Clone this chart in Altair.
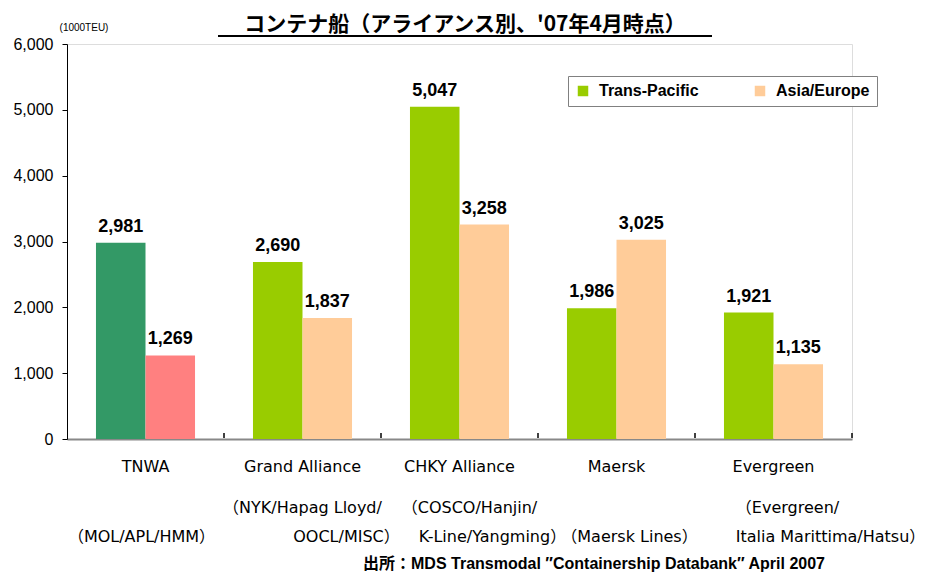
import altair as alt
import pandas as pd

# ---- data ----
categories = ["TNWA", "Grand Alliance", "CHKY Alliance", "Maersk", "Evergreen"]
series = ["Trans-Pacific", "Asia/Europe"]
trans_pacific = [2981, 2690, 5047, 1986, 1921]
asia_europe = [1269, 1837, 3258, 3025, 1135]
members_line1 = ["", "（NYK/Hapag Lloyd/", "（COSCO/Hanjin/", "", "（Evergreen/"]
members_line2 = ["（MOL/APL/HMM）", "OOCL/MISC）", "K-Line/Yangming）", "（Maersk Lines）", "Italia Marittima/Hatsu）"]
y_ticks = [0, 1000, 2000, 3000, 4000, 5000, 6000]

title_text = "コンテナ船（アライアンス別、'07年4月時点）"
unit_text = "(1000TEU)"
source_text = "出所：MDS Transmodal ″Containership Databank″ April 2007"

rows = []
for i, c in enumerate(categories):
    for s, vals in zip(series, [trans_pacific, asia_europe]):
        key = ("TNWA " + s) if c == "TNWA" else s
        rows.append({"category": c, "series": s, "value": vals[i], "colorkey": key})
df = pd.DataFrame(rows)

# ---- layout ----
W, H = 785, 395
PLOT_LEFT, PLOT_TOP = 67, 44
FONT = "Liberation Sans"
WFONT = "DejaVu Sans, Noto Sans CJK JP"
JFONT = "Noto Sans CJK JP"
MIXB = "Liberation Sans, Noto Sans CJK JP"

color_domain = ["Trans-Pacific", "Asia/Europe", "TNWA Trans-Pacific", "TNWA Asia/Europe"]
color_range = ["#99CC00", "#FFCC99", "#339966", "#FF8080"]

x_enc = alt.X("category:N", sort=categories, title=None,
              scale=alt.Scale(paddingInner=0, paddingOuter=0),
              axis=alt.Axis(labelAngle=0, ticks=False, domainColor="#888888", domainWidth=2,
                            labelFontSize=16, labelPadding=19, labelFont="DejaVu Sans",
                            labelColor="black"))
x_plain = alt.X("category:N", sort=categories, title=None)
xoff = alt.XOffset("series:N", sort=series, scale=alt.Scale(paddingInner=0, paddingOuter=0.585))
y_enc = alt.Y("value:Q", title=None, scale=alt.Scale(domain=[0, 6000], nice=False),
              axis=alt.Axis(values=y_ticks, format=",.0f", tickSize=5, tickColor="black",
                            domainColor="black", labelFontSize=16, labelPadding=9, grid=False,
                            labelColor="black", labelFont=FONT))

base = alt.Chart(df)

bars = base.mark_bar().encode(
    x=x_enc, xOffset=xoff, y=y_enc,
    color=alt.Color("colorkey:N", scale=alt.Scale(domain=color_domain, range=color_range),
                    legend=alt.Legend(values=series, title=None, orient="none",
                                      legendX=501, legendY=32, direction="horizontal",
                                      symbolType="square", symbolSize=110, symbolStrokeWidth=0,
                                      labelFontSize=16, labelFontWeight="bold", labelFont=FONT,
                                      labelColor="black", labelOffset=8, columnPadding=53,
                                      padding=7, strokeColor="#808080", fillColor="white")),
)

labels = base.mark_text(fontWeight="bold", fontSize=18, font=FONT, baseline="alphabetic",
                        dy=-11, color="black").encode(
    x=x_plain, xOffset=xoff, y=alt.Y("value:Q"),
    text=alt.Text("value:Q", format=","),
)

ticks = alt.Chart(pd.DataFrame({"category": categories})).mark_rule(color="black", strokeWidth=1.5).encode(
    x=alt.X("category:N", sort=categories, bandPosition=1, title=None),
    y=alt.value(H - 6), y2=alt.value(H - 1),
)

# member annotations: (text, category, dx, y)
ann_layout = []
dx1 = [0, 0, 10, 0, 14]
dx2 = [-4, 44, 33, 13, 57]
for i, c in enumerate(categories):
    if members_line1[i]:
        ann_layout.append((members_line1[i], c, dx1[i], 464))
    ann_layout.append((members_line2[i], c, dx2[i], 493))

ann_layers = []
for t, c, dx, yy in ann_layout:
    ann_layers.append(
        alt.Chart(pd.DataFrame({"category": [c], "t": [t]})).mark_text(
            fontSize=16, font=WFONT, dx=dx, baseline="middle", color="black"
        ).encode(x=x_plain, y=alt.value(yy), text="t:N")
    )

def fixed_text(txt, x, y, size, weight="normal", font=JFONT):
    return alt.Chart(pd.DataFrame({"t": [txt]})).mark_text(
        fontSize=size, fontWeight=weight, font=font, baseline="middle", color="black"
    ).encode(x=alt.value(x), y=alt.value(y), text="t:N")

title = fixed_text(title_text, 465 - PLOT_LEFT, 24.5 - PLOT_TOP, 21, "bold")
underline = alt.Chart(pd.DataFrame({"t": [0]})).mark_rule(color="black", strokeWidth=2).encode(
    x=alt.value(218 - PLOT_LEFT), x2=alt.value(712 - PLOT_LEFT), y=alt.value(36 - PLOT_TOP))
unit = fixed_text(unit_text, 84 - PLOT_LEFT, 28 - PLOT_TOP, 10, font=FONT)
source = fixed_text(source_text, 594 - PLOT_LEFT, 564 - PLOT_TOP, 16, "bold", font=MIXB)

chart = alt.layer(bars, labels, ticks, *ann_layers, title, underline, unit, source).properties(
    width=W, height=H,
    autosize=alt.AutoSizeParams(type="none"),
    padding={"left": PLOT_LEFT - 8, "top": PLOT_TOP - 8, "right": 934 - 16 - (PLOT_LEFT - 8) - W,
             "bottom": 140},
).configure_view(stroke=None).configure(background="white")

chart.save("out.html", embed_options={"renderer": "svg", "actions": False})
